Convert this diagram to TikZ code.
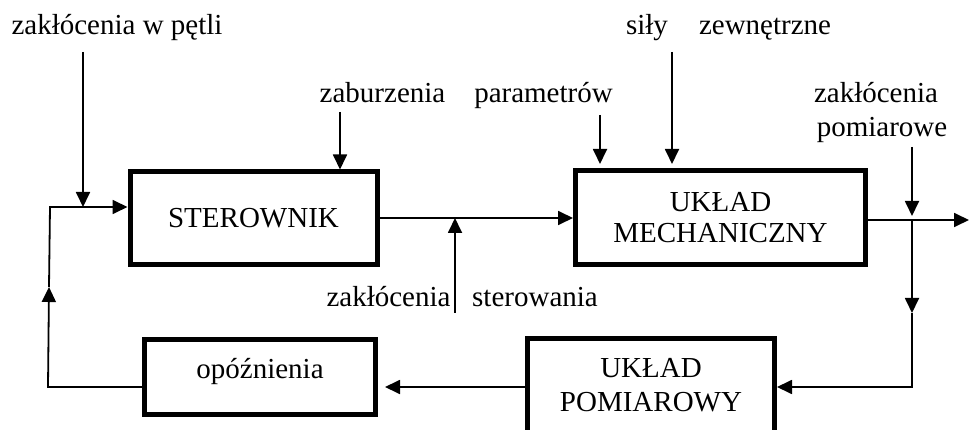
\documentclass[tikz,border=0pt]{standalone}
\usepackage{fontspec}
\setmainfont{Liberation Serif}
\usetikzlibrary{arrows.meta}
\begin{document}
\begin{tikzpicture}[x=1pt,y=-1pt,
  font=\fontsize{29}{31}\selectfont,
  blk/.style={draw, line width=5pt, inner sep=0pt, align=center},
  ln/.style={line width=1.8pt},
  arr/.style={ln, -{Triangle[length=15pt,width=14pt]}},
  lbl/.style={inner sep=0pt, anchor=base}
]
\useasboundingbox (0,0) rectangle (969,430);
\clip (0,0) rectangle (969,430);
\fill[white] (0,0) rectangle (969,430);
% blocks
\node[blk, minimum width=247pt, minimum height=93pt] (ster) at (253.5,218.5) {STEROWNIK};
\node[blk, minimum width=290pt, minimum height=94pt] (mech) at (720.5,217.5) {UKŁAD\\MECHANICZNY};
\node[blk, minimum width=247pt, minimum height=100pt, text depth=7pt] (pom) at (651,388.5) {UKŁAD\\[3pt]POMIAROWY};
\node[blk, minimum width=231pt, minimum height=75pt, text height=15pt, text depth=13pt] (opo) at (260,377) {opóźnienia};
% labels
\node[lbl] (lpetli) at (117,35) {zakłócenia w pętli};
\node[lbl] (zab) at (382.5,103) {zaburzenia};
\node[lbl] (par) at (543.5,103) {parametrów};
\node[lbl] (sily) at (647,35) {siły};
\node[lbl] (zew) at (765,35) {zewnętrzne};
\node[lbl] (zpom1) at (876,103) {zakłócenia};
\node[lbl] (zpom2) at (882,137) {pomiarowe};
\node[lbl] (zst1) at (388.5,306) {zakłócenia};
\node[lbl] (zst2) at (535,306) {sterowania};
% coordinates
\coordinate (lpA) at (83,52);
\coordinate (lpJ) at (83,207);
\coordinate (fbT) at (50,207);
\coordinate (fbM) at (49,287);
\coordinate (fbB) at (48,387);
\coordinate (zabA) at (340,112);
\coordinate (parA) at (600,115);
\coordinate (silA) at (672,52);
\coordinate (zstA) at (455,313);
\coordinate (zstJ) at (455,218);
\coordinate (pmA) at (912,147);
\coordinate (pmJ) at (912,220);
\coordinate (outE) at (969,220);
\coordinate (pmD) at (912,313);
\coordinate (pmB) at (912,387);
% connectors
\draw[arr] (lpA) -- (lpJ);
\draw[arr] (opo.west |- fbB) -- (fbB) -- (fbM);
\draw[arr] (fbM) -- (fbT) -- (fbT -| ster.west);
\draw[arr] (zabA) -- (zabA |- ster.north);
\draw[arr] (ster.east |- zstJ) -- (mech.west |- zstJ);
\draw[arr] (zstA) -- (zstJ);
\draw[arr, shorten >=4pt] (parA) -- (parA |- mech.north);
\draw[arr, shorten >=4pt] (silA) -- (silA |- mech.north);
\draw[arr] (mech.east |- pmJ) -- (outE);
\draw[arr, shorten >=4pt] (pmA) -- (pmJ);
\draw[arr] (pmJ) -- (pmD);
\draw[arr] (pmD) -- (pmB) -- (pmB -| pom.east);
\draw[arr, shorten >=7pt] (pom.west |- pmB) -- (opo.east |- pmB);
\end{tikzpicture}
\end{document}
